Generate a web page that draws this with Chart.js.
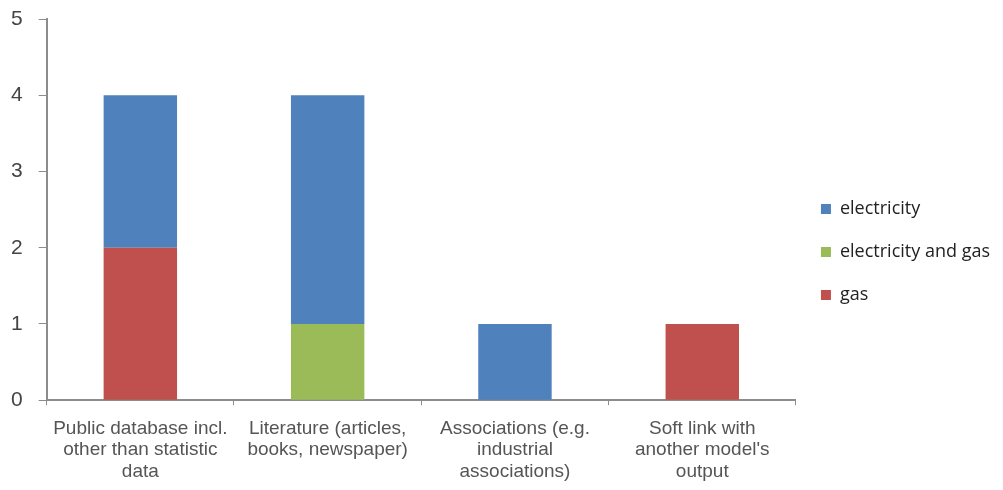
<!DOCTYPE html>
<html>
<head>
<meta charset="utf-8">
<script src="https://cdn.jsdelivr.net/npm/chart.js@4"></script>
<style>
  html, body { margin: 0; padding: 0; background: #ffffff; }
  #wrap { width: 1003px; height: 490px; position: relative; }
</style>
</head>
<body>
<div id="wrap"><canvas id="sourcesChart"></canvas></div>
<script>
const categories = [
  ["Public database incl.", "other than statistic", "data"],
  ["Literature (articles,", "books, newspaper)"],
  ["Associations (e.g.", "industrial", "associations)"],
  ["Soft link with", "another model's", "output"]
];
const gasValues = [2, 0, 0, 1];
const elecAndGasValues = [0, 1, 0, 0];
const electricityValues = [2, 3, 1, 0];
const yTicks = [0, 1, 2, 3, 4, 5];

const color = {
  Blue: '#4F81BD',
  Green: '#9BBB59',
  Red: '#C0504D'
};

const sourcesChartConfig = {
  type: "bar",
  data: {
    labels: categories,
    datasets: [
      { label: "gas", data: gasValues, backgroundColor: color.Red },
      { label: "electricity and gas", data: elecAndGasValues, backgroundColor: color.Green },
      { label: "electricity", data: electricityValues, backgroundColor: color.Blue }
    ]
  },
  options: {
    responsive: true,
    maintainAspectRatio: false,
    animation: false,
    // top padding only moves the legend, the y scale keeps its own room
    layout: { padding: { top: 9, left: -5, right: 3, bottom: -5 } },
    datasets: { bar: { barPercentage: 0.8, categoryPercentage: 0.49 } },
    plugins: {
      tooltip: { enabled: false },
      legend: {
        position: "right",
        reverse: true,
        labels: {
          boxWidth: 10,
          boxHeight: 10,
          padding: 25,
          color: '#222222',
          font: { family: "Open Sans", size: 18, lineHeight: 0.5 }
        }
      }
    },
    scales: {
      x: {
        stacked: true,
        grid: { offset: true, drawOnChartArea: false, tickLength: 5, color: '#8c8c8c' },
        border: { color: '#8c8c8c', width: 2 },
        ticks: {
          maxRotation: 0,
          autoSkip: false,
          color: '#555555',
          padding: 13,
          font: { family: "Liberation Sans", size: 19, lineHeight: 1.12 }
        }
      },
      y: {
        stacked: true,
        min: 0,
        max: 5,
        afterBuildTicks: (axis) => { axis.ticks = yTicks.map(v => ({ value: v })); },
        grid: { drawOnChartArea: false, tickLength: 8, color: '#8c8c8c' },
        border: { color: '#8c8c8c', width: 2 },
        ticks: {
          color: '#444444',
          padding: 16,
          font: { family: "Liberation Sans", size: 21, lineHeight: 0.3 }
        }
      }
    }
  }
};

const sourcesChart = new Chart(document.getElementById("sourcesChart"), sourcesChartConfig);
</script>
</body>
</html>
